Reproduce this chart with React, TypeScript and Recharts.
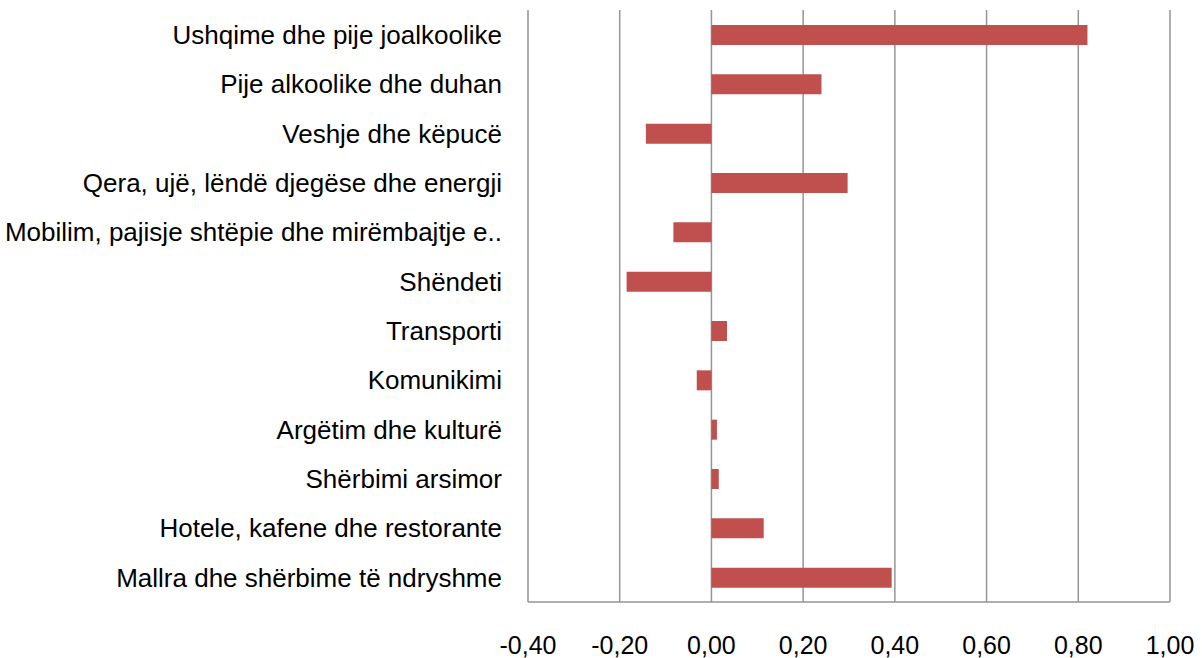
import { BarChart, Bar, CartesianGrid, XAxis, YAxis } from "recharts";

const categories = [
  "Ushqime dhe pije joalkoolike",
  "Pije alkoolike dhe duhan",
  "Veshje dhe këpucë",
  "Qera, ujë, lëndë djegëse dhe energji",
  "Mobilim, pajisje shtëpie dhe mirëmbajtje e..",
  "Shëndeti",
  "Transporti",
  "Komunikimi",
  "Argëtim dhe kulturë",
  "Shërbimi arsimor",
  "Hotele, kafene dhe restorante",
  "Mallra dhe shërbime të ndryshme",
];

const values = [0.82, 0.24, -0.143, 0.297, -0.083, -0.185, 0.034, -0.032, 0.012, 0.016, 0.114, 0.393];

const xTicks = [-0.4, -0.2, 0, 0.2, 0.4, 0.6, 0.8, 1.0];

const data = categories.map((name, i) => ({ name, value: values[i] }));

const fmt = (v: number) => v.toFixed(2).replace(".", ",");

export default function App() {
  return (
    <div style={{ position: "fixed", left: 0, top: 0, background: "#fff" }}>
      <BarChart
        width={1202}
        height={658}
        layout="vertical"
        data={data}
        margin={{ top: 10, right: 32, left: 0, bottom: 0 }}
        barSize={20}
        style={{ fontFamily: "'Liberation Sans', Arial, sans-serif" }}
      >
        <CartesianGrid horizontal={false} stroke="#959595" strokeWidth={1.5} />
        <XAxis
          type="number"
          domain={[-0.4, 1]}
          ticks={xTicks}
          tickFormatter={fmt}
          height={56}
          tickSize={0}
          tickMargin={34}
          tick={{ fontSize: 25, fill: "#000" }}
          axisLine={{ stroke: "#959595", strokeWidth: 1.5 }}
          tickLine={false}
          interval={0}
        />
        <YAxis
          type="category"
          dataKey="name"
          width={528}
          tickSize={0}
          tickMargin={26}
          axisLine={false}
          tickLine={false}
          interval={0}
          tick={{ fontSize: 26, fill: "#000" }}
        />
        <Bar dataKey="value" fill="#C0504D" isAnimationActive={false} />
      </BarChart>
    </div>
  );
}
